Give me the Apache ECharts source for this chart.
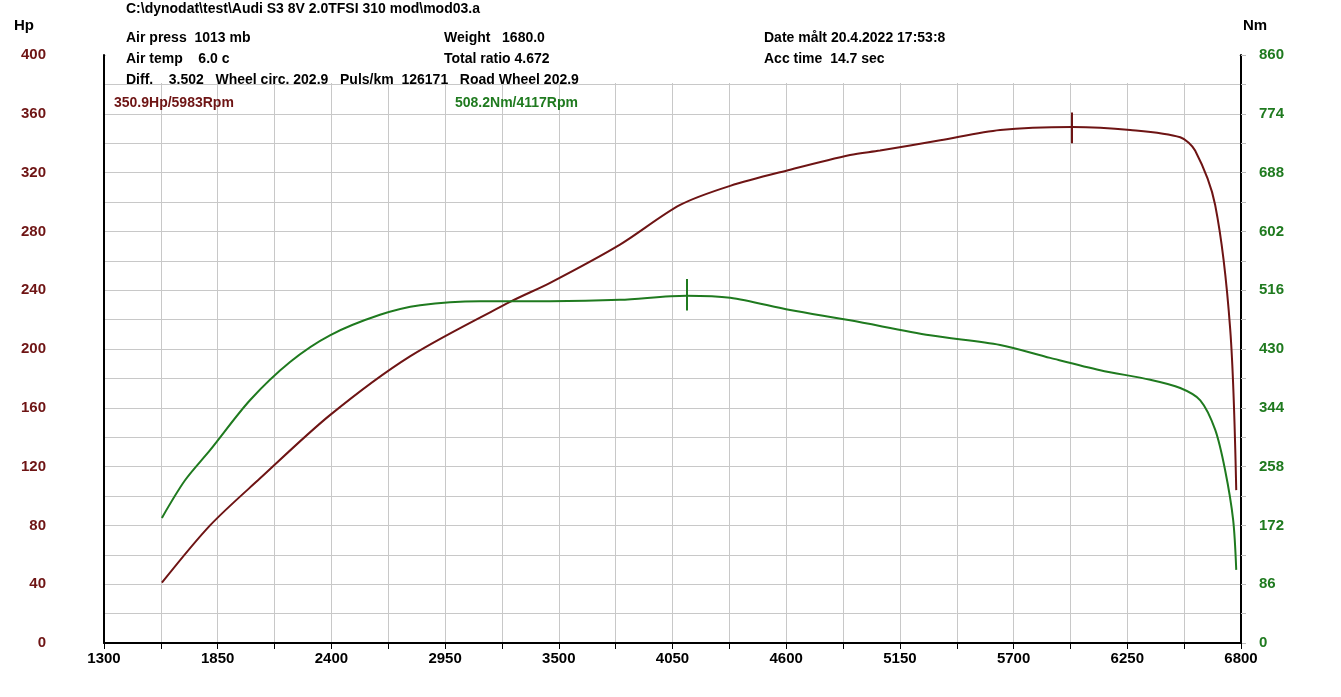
<!DOCTYPE html>
<html>
<head>
<meta charset="utf-8">
<script src="https://cdn.jsdelivr.net/npm/echarts@6/dist/echarts.min.js"></script>
<style>html,body{margin:0;background:#fff}#c{width:1341px;height:697px}</style>
</head>
<body>
<div id="c"></div>
<script>
// rpm offset: x axis counts from 1300
const rpmStart = 1300
const hpRpm = [1580, 1813, 2055, 2393, 2780, 3264, 3458, 3796, 4087, 4329, 4619, 4909, 5054, 5345, 5635, 5983, 6264, 6506, 6578, 6675, 6748, 6777]
const hpVal = [41, 80, 112, 155, 195, 232, 245, 271, 298, 311, 322, 332, 335, 342, 349, 351, 349, 344, 335, 298, 213, 104]
const nmRpm = [1580, 1692, 1813, 2006, 2200, 2393, 2635, 2829, 3119, 3458, 3796, 4117, 4329, 4619, 4909, 5296, 5635, 5877, 6119, 6361, 6506, 6603, 6675, 6723, 6762, 6777]
const nmVal = [183, 238, 282, 355, 411, 450, 480, 494, 500, 500, 502, 508, 505, 487, 472, 450, 436, 417, 399, 385, 373, 355, 312, 253, 180, 107]
const hpPeak = [5983, 350.9]
const nmPeak = [4117, 508.2]

const red = '#6e1414'
const green = '#1f7a1f'
const font = '"Liberation Sans Narrow", "Liberation Sans", sans-serif'

const chart = echarts.init(document.getElementById('c'))
const pts = (xs, ys) => xs.map((x, i) => [x - rpmStart, ys[i]])
const txt = (x, y, s, color) => ({ type: 'text', z: 101, left: x, top: y, style: { text: s, fill: color || '#000', font: 'bold 14px ' + font } })

chart.setOption({
  animation: false,
  grid: { left: 104, right: 100, top: 55, bottom: 54 },
  xAxis: {
    type: 'value', min: 0, max: 5500, interval: 275,
    axisLine: { lineStyle: { color: '#000', width: 2 } },
    axisTick: { show: true, length: 6, lineStyle: { color: '#000' } },
    axisLabel: { color: '#000', fontWeight: 'bold', fontSize: 15, fontFamily: font, margin: 8,
      formatter: v => (v % 550 === 0 ? String(v + rpmStart) : '') },
    splitLine: { lineStyle: { color: '#c8c8c8' } }
  },
  yAxis: [
    { type: 'value', min: 0, max: 400, interval: 20, name: 'Hp', nameLocation: 'end',
      nameGap: 22, nameTextStyle: { color: '#000', fontWeight: 'bold', fontSize: 15, fontFamily: font, align: 'right', padding: [0, 70, 0, 0] },
      axisLine: { show: true, lineStyle: { color: '#000', width: 2 } },
      axisTick: { show: false },
      axisLabel: { color: red, fontWeight: 'bold', fontSize: 15, fontFamily: font, margin: 58,
        formatter: v => (v % 40 === 0 ? String(v) : '') },
      splitLine: { lineStyle: { color: '#c8c8c8' } } },
    { type: 'value', min: 0, max: 860, interval: 43, name: 'Nm', nameLocation: 'end',
      nameGap: 22, nameTextStyle: { color: '#000', fontWeight: 'bold', fontSize: 15, fontFamily: font, padding: [0, 0, 0, 28] },
      axisLine: { show: true, lineStyle: { color: '#000', width: 2 } },
      axisTick: { show: true, length: 5, lineStyle: { color: '#bbb' } },
      axisLabel: { color: green, fontWeight: 'bold', fontSize: 15, fontFamily: font, margin: 18,
        formatter: v => (v % 86 === 0 ? String(v) : '') },
      splitLine: { show: false } }
  ],
  series: [
    { type: 'line', yAxisIndex: 0, data: pts(hpRpm, hpVal), smooth: 0.3, showSymbol: false,
      lineStyle: { color: red, width: 2 },
      markLine: { symbol: 'none', silent: true, label: { show: false }, lineStyle: { color: red, width: 2, type: 'solid' },
        data: [[{ coord: [hpPeak[0] - rpmStart, hpPeak[1] + 10] }, { coord: [hpPeak[0] - rpmStart, hpPeak[1] - 11] }]] } },
    { type: 'line', yAxisIndex: 1, data: pts(nmRpm, nmVal), smooth: 0.3, showSymbol: false,
      lineStyle: { color: green, width: 2 },
      markLine: { symbol: 'none', silent: true, label: { show: false }, lineStyle: { color: green, width: 2, type: 'solid' },
        data: [[{ coord: [nmPeak[0] - rpmStart, nmPeak[1] + 24] }, { coord: [nmPeak[0] - rpmStart, nmPeak[1] - 22] }]] } }
  ],
  graphic: [
    { type: 'rect', z: 100, shape: { x: 106, y: 24, width: 1133, height: 59 }, style: { fill: '#fff' } },
    txt(126, 2, 'C:\\dynodat\\test\\Audi S3 8V 2.0TFSI 310 mod\\mod03.a'),
    txt(126, 31, 'Air press  1013 mb'),
    txt(126, 52, 'Air temp    6.0 c'),
    txt(126, 73, 'Diff.    3.502   Wheel circ. 202.9   Puls/km  126171   Road Wheel 202.9'),
    txt(444, 31, 'Weight   1680.0'),
    txt(444, 52, 'Total ratio 4.672'),
    txt(764, 31, 'Date målt 20.4.2022 17:53:8'),
    txt(764, 52, 'Acc time  14.7 sec'),
    txt(114, 96, hpPeak[1].toFixed(1) + 'Hp/' + hpPeak[0] + 'Rpm', red),
    txt(455, 96, nmPeak[1].toFixed(1) + 'Nm/' + nmPeak[0] + 'Rpm', green)
  ]
})
</script>
</body>
</html>
